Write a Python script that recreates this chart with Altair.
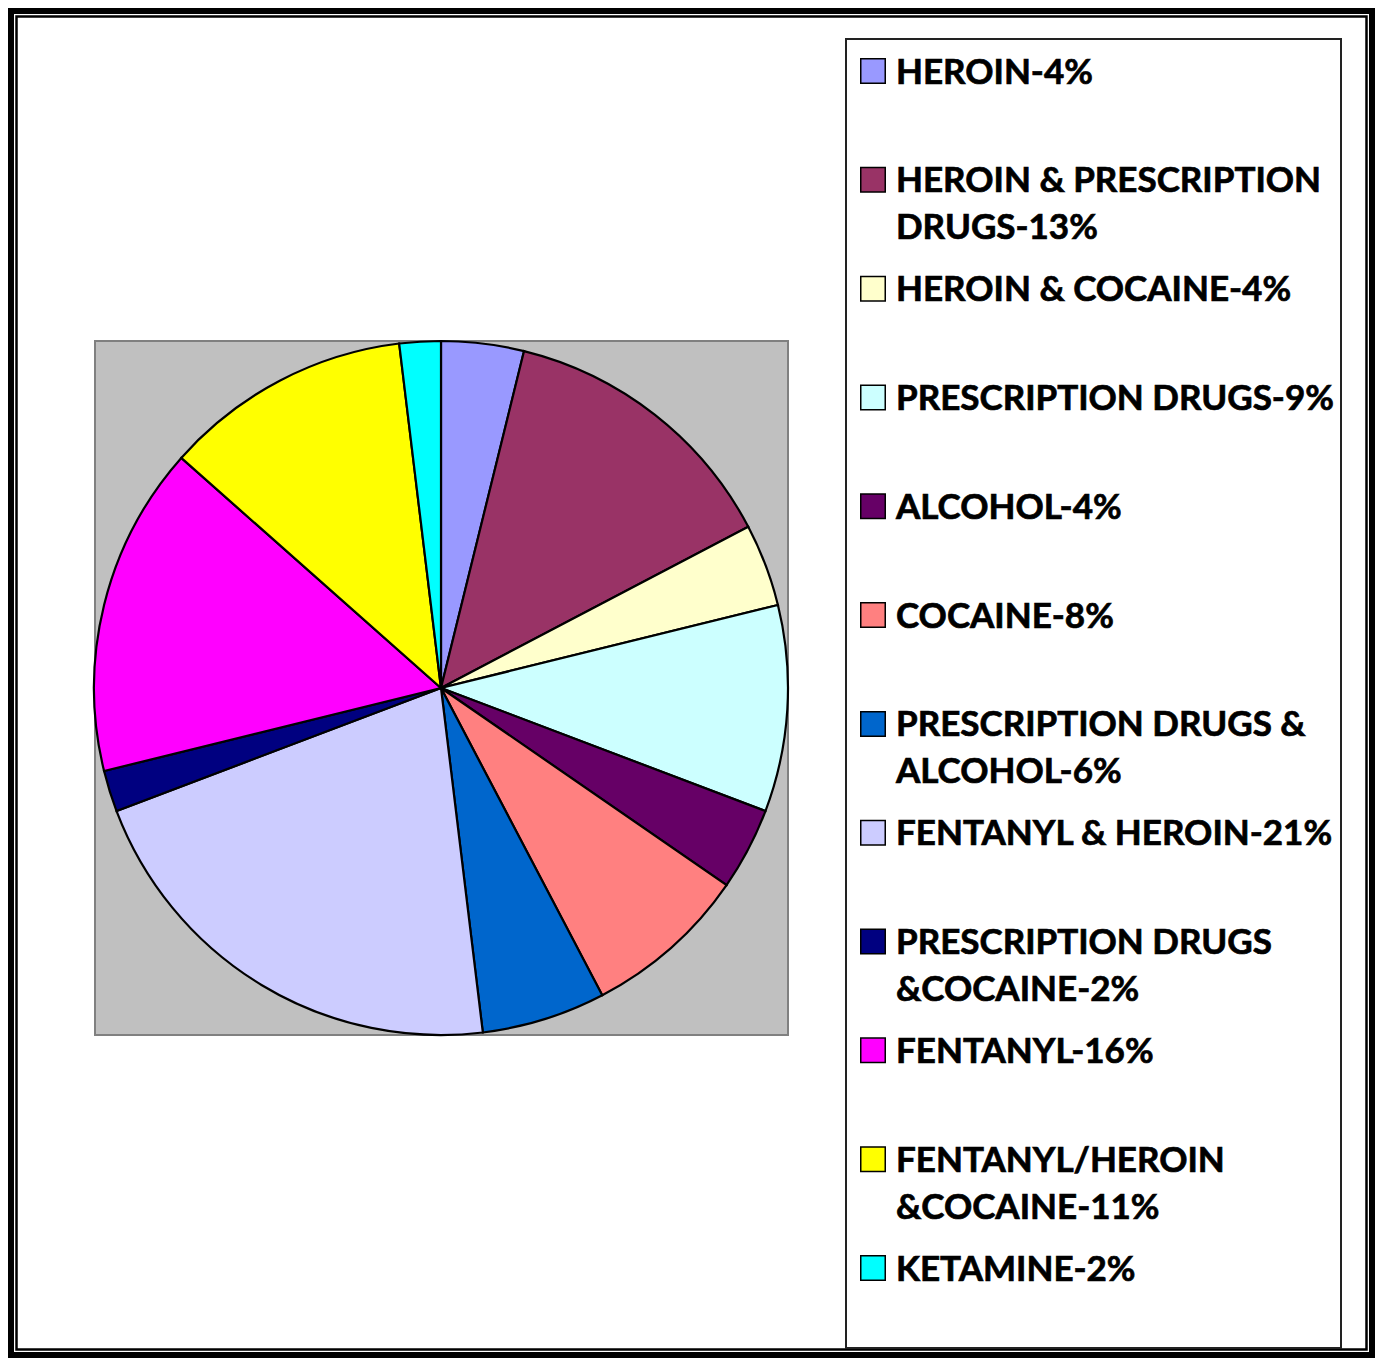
import altair as alt
import pandas as pd

names = ["HEROIN", "HEROIN & PRESCRIPTION DRUGS", "HEROIN & COCAINE", "PRESCRIPTION DRUGS",
         "ALCOHOL", "COCAINE", "PRESCRIPTION DRUGS & ALCOHOL", "FENTANYL & HEROIN",
         "PRESCRIPTION DRUGS &COCAINE", "FENTANYL", "FENTANYL/HEROIN &COCAINE", "KETAMINE"]
counts = [2, 7, 2, 5, 2, 4, 3, 11, 1, 8, 6, 1]
line1 = ["HEROIN-4%", "HEROIN & PRESCRIPTION", "HEROIN & COCAINE-4%", "PRESCRIPTION DRUGS-9%",
         "ALCOHOL-4%", "COCAINE-8%", "PRESCRIPTION DRUGS &", "FENTANYL & HEROIN-21%",
         "PRESCRIPTION DRUGS", "FENTANYL-16%", "FENTANYL/HEROIN", "KETAMINE-2%"]
line2 = ["", "DRUGS-13%", "", "", "", "", "ALCOHOL-6%", "", "&COCAINE-2%", "", "&COCAINE-11%", ""]
colors = ["#9999FF", "#993366", "#FFFFCC", "#CCFFFF", "#660066", "#FF8080",
          "#0066CC", "#CCCCFF", "#000080", "#FF00FF", "#FFFF00", "#00FFFF"]

df = pd.DataFrame({"name": names, "count": counts, "l1": line1, "l2": line2,
                   "idx": list(range(len(names)))})

W, H = 1367, 1350
color = alt.Color("name:N", scale=alt.Scale(domain=names, range=colors), legend=None)
yscale = alt.Scale(domain=[0, 11], range=[63, 1260])
FONT = "Lato"
FS = 35

one = pd.DataFrame({"k": [0]})

def box(x1, x2, y1, y2, fill, stroke, sw):
    return alt.Chart(one).mark_rect(fill=fill, stroke=stroke, strokeWidth=sw).encode(
        x=alt.value(x1), x2=alt.value(x2), y=alt.value(y1), y2=alt.value(y2))

# outer double border
outer = alt.Chart(one).mark_rect(fill=None, stroke="black", strokeWidth=6).encode(
    x=alt.value(3), x2=alt.value(W - 3), y=alt.value(3), y2=alt.value(H - 3))
inner = alt.Chart(one).mark_rect(fill=None, stroke="black", strokeWidth=2.5).encode(
    x=alt.value(8.5), x2=alt.value(W - 8.5), y=alt.value(8.5), y2=alt.value(H - 8.5))

plotbg = box(87, 780, 333, 1027, "#C0C0C0", "#808080", 2)
legbox = box(838, 1333, 31, 1340, "white", "#222222", 2)

pie = alt.Chart(df).mark_arc(radius=347, stroke="black", strokeWidth=2.2).encode(
    theta=alt.Theta("count:Q", stack=True),
    order=alt.Order("idx:Q"),
    color=color,
    x=alt.value(433), y=alt.value(680),
)

squares = alt.Chart(df).mark_square(size=600, stroke="black", strokeWidth=1.5, opacity=1).encode(
    x=alt.value(865),
    y=alt.Y("idx:Q", scale=yscale, axis=None),
    fill=color,
)

def text_layer(field, dy):
    return alt.Chart(df).mark_text(align="left", baseline="alphabetic", dy=dy, font=FONT,
                                   fontWeight="bold", fontSize=FS, color="black",
                                   stroke="black", strokeWidth=0.7).encode(
        x=alt.value(888),
        y=alt.Y("idx:Q", scale=yscale, axis=None),
        text=f"{field}:N",
    )

t1 = text_layer("l1", 12.5)
t2 = text_layer("l2", 59.5)

chart = alt.layer(outer, inner, plotbg, legbox, pie, squares, t1, t2).properties(
    width=W, height=H, padding=0, autosize=alt.AutoSizeParams(type="none"),
    background="white",
).configure_view(stroke=None)

chart.save("out.html", embed_options={"renderer": "svg", "actions": False})
